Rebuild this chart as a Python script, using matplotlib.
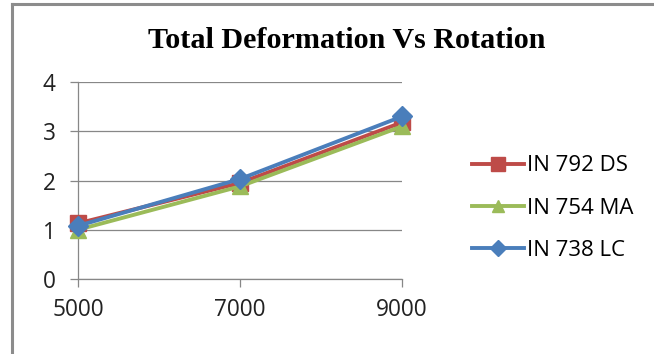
import matplotlib
matplotlib.use("Agg")
import matplotlib.pyplot as plt
from matplotlib.lines import Line2D

rotation = [5000, 7000, 9000]
series_names = ["IN 792 DS", "IN 754 MA", "IN 738 LC"]
ds_792 = [1.13, 1.95, 3.18]
ma_754 = [1.00, 1.88, 3.10]
lc_738 = [1.08, 2.03, 3.30]
y_ticks = [0, 1, 2, 3, 4]
x_ticks = [5000, 7000, 9000]
title = "Total Deformation Vs Rotation"

colors = ["#BE4B48", "#9BBB59", "#4A7EBB"]
markers = ["s", "^", "D"]
msizes = [12, 11, 10]

fig = plt.figure(figsize=(6.54, 3.54), dpi=100)
ax = fig.add_axes([78/654, 1-279/354, (402-78)/654, (279-82)/354])

grid_c = "#878787"
for vals, c, m, ms, name in zip([ds_792, ma_754, lc_738], colors, markers, msizes, series_names):
    ax.plot(rotation, vals, color=c, lw=2.8, marker=m, ms=ms, mec=c, mfc=c,
            label=name, zorder=3, clip_on=False)

ax.set_xlim(5000, 9000)
ax.set_ylim(0, 4)
ax.set_xticks(x_ticks)
ax.set_yticks(y_ticks)
ax.grid(axis="y", color=grid_c, lw=0.9)
for s in ["top", "right"]:
    ax.spines[s].set_visible(False)
for s in ["left", "bottom"]:
    ax.spines[s].set_color(grid_c)
    ax.spines[s].set_linewidth(0.9)
ax.tick_params(axis="both", color=grid_c, width=0.9, length=6, direction="out",
               labelsize=16.3, labelcolor="#222222")
ax.tick_params(axis="x", pad=8)
ax.tick_params(axis="y", pad=10)
for lbl in ax.get_xticklabels() + ax.get_yticklabels():
    lbl.set_fontfamily("Open Sans")

fig.text(545/654, 1-40/354, title, ha="right", va="center", fontsize=21.7,
         fontweight="bold", family="Liberation Serif")

handles = [Line2D([0], [0], color=c, lw=2.8, marker=m, ms=ms*0.8, mec=c, mfc=c)
           for c, m, ms in zip(colors, markers, msizes)]
fig.legend(handles, series_names, loc="center left", bbox_to_anchor=(452/654, 1-208/354),
           frameon=False, prop={"family": "Open Sans", "size": 16}, handlelength=2.35,
           handletextpad=0.12, labelspacing=0.95)

# partial frame like the reference (left and top edges)
fig.add_artist(Line2D([12/654, 12/654], [0, 1-4/354], transform=fig.transFigure,
                      color="#8c8c8c", lw=2.2))
fig.add_artist(Line2D([12/654, 1], [1-4/354, 1-4/354], transform=fig.transFigure,
                      color="#8c8c8c", lw=2.2))

fig.savefig("out.png", dpi=100)
